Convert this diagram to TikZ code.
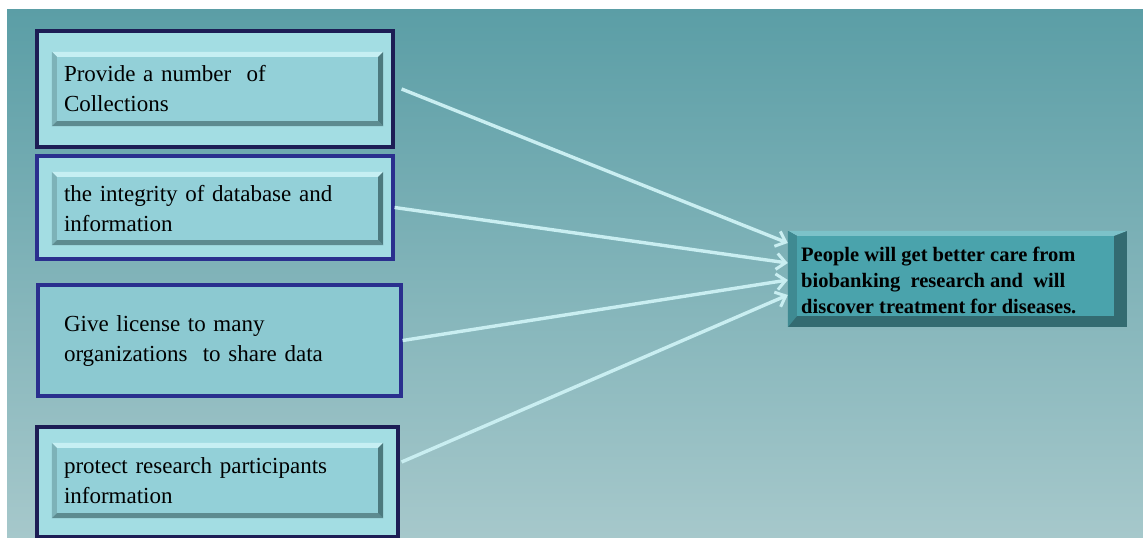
\documentclass[tikz,border=0pt]{standalone}
\usepackage{fontspec}
\setmainfont{Liberation Serif}
\usetikzlibrary{arrows.meta}

\definecolor{bgtop}{HTML}{5B9EA6}
\definecolor{bgbot}{HTML}{A6C8CB}
\definecolor{framefill}{HTML}{A3DDE3}
\definecolor{facefill}{HTML}{93D0D8}
\definecolor{plainfill}{HTML}{8CC9D1}
\definecolor{navy}{HTML}{1D1D55}
\definecolor{royal}{HTML}{2A2F8E}
\definecolor{bvlight}{HTML}{C6EFF3}
\definecolor{bvside}{HTML}{7DB2B8}
\definecolor{bvdark}{HTML}{5D8B90}
\definecolor{bvdeep}{HTML}{4C797E}
\definecolor{arrowc}{HTML}{C9EEF1}
\definecolor{goalface}{HTML}{4AA3AC}
\definecolor{goaldark}{HTML}{336B71}
\definecolor{goallight}{HTML}{7CC2C9}

% bevel edges over a face node
\newcommand{\bevel}[1]{%
  \fill[bvlight] (#1.north west) -- (#1.north east) -- ([shift={(-5,5)}]#1.north east) -- ([shift={(5,5)}]#1.north west) -- cycle;
  \fill[bvside] (#1.north west) -- ([shift={(5,5)}]#1.north west) -- ([shift={(5,-5)}]#1.south west) -- (#1.south west) -- cycle;
  \fill[bvdark] (#1.south west) -- ([shift={(5,-5)}]#1.south west) -- ([shift={(-5,-5)}]#1.south east) -- (#1.south east) -- cycle;
  \fill[bvdeep] (#1.north east) -- (#1.south east) -- ([shift={(-5,-5)}]#1.south east) -- ([shift={(-5,5)}]#1.north east) -- cycle;
}

\tikzset{
  frame/.style={draw=#1, line width=3.2pt, fill=framefill, inner sep=0pt},
  face/.style={fill=facefill, minimum width=331pt, minimum height=74pt, text width=307pt,
               inner xsep=12pt, inner ysep=0pt, align=left, font=\fontsize{23}{30}\selectfont},
  link/.style={draw=arrowc, line width=3.4pt, -{Straight Barb[length=9pt,width=16pt,line width=3pt]}}
}

\begin{document}
\begin{tikzpicture}[x=1pt,y=-1pt]
  \useasboundingbox (0,0) rectangle (1143,538);
  \shade[top color=bgtop, bottom color=bgbot] (7,9) rectangle (1143,538);

  % left column
  \node[frame=navy, minimum width=356pt, minimum height=116pt] (collect) at (215,89) {};
  \node[face] (collectin) at (217.5,89) {Provide a number~ of\\Collections};
  \bevel{collectin}

  \node[frame=royal, minimum width=356pt, minimum height=103pt] (integ) at (215,207.5) {};
  \node[face, minimum height=73pt] (integin) at (217.5,208.5) {the integrity of database and\\information};
  \bevel{integin}

  \node[frame=royal, fill=plainfill, minimum width=363pt, minimum height=111pt,
        text width=311pt, inner xsep=26pt, align=left, font=\fontsize{23}{30}\selectfont]
        (licence) at (219.5,340.5) {Give license to many\\organizations~ to share data};

  \node[frame=navy, minimum width=361pt, minimum height=110pt] (protect) at (217.5,482) {};
  \node[face, minimum height=75pt] (protectin) at (217.5,480.5) {protect research participants\\information};
  \bevel{protectin}

  % goal box
  \node[fill=goaldark, minimum width=339pt, minimum height=96pt, inner sep=0pt] (care) at (957.5,279) {};
  \fill[goallight] (care.north west) -- (care.north east) -- ([shift={(-13,5)}]care.north east) -- ([shift={(9,5)}]care.north west) -- cycle;
  \fill[goalface!85!black] (care.north west) -- ([shift={(9,5)}]care.north west) -- ([shift={(9,-11)}]care.south west) -- (care.south west) -- cycle;
  \fill[goalface] ([shift={(9,5)}]care.north west) rectangle ([shift={(-13,-11)}]care.south east);
  \node[anchor=west, align=left, inner sep=0pt, font=\bfseries\fontsize{20.5}{26}\selectfont]
        (caretxt) at (801,280) {People will get better care from\\biobanking~ research and~ will\\discover treatment for diseases.};

  % arrows
  \draw[link] ([xshift=7pt]collect.east) -- ([yshift=36pt]care.west);
  \draw[link] (integ.east) -- ([yshift=16pt]care.west);
  \draw[link] (licence.east) -- ([yshift=-1pt]care.west);
  \draw[link] ([shift={(2,-20)}]protect.east) -- ([yshift=-16pt]care.west);
\end{tikzpicture}
\end{document}
